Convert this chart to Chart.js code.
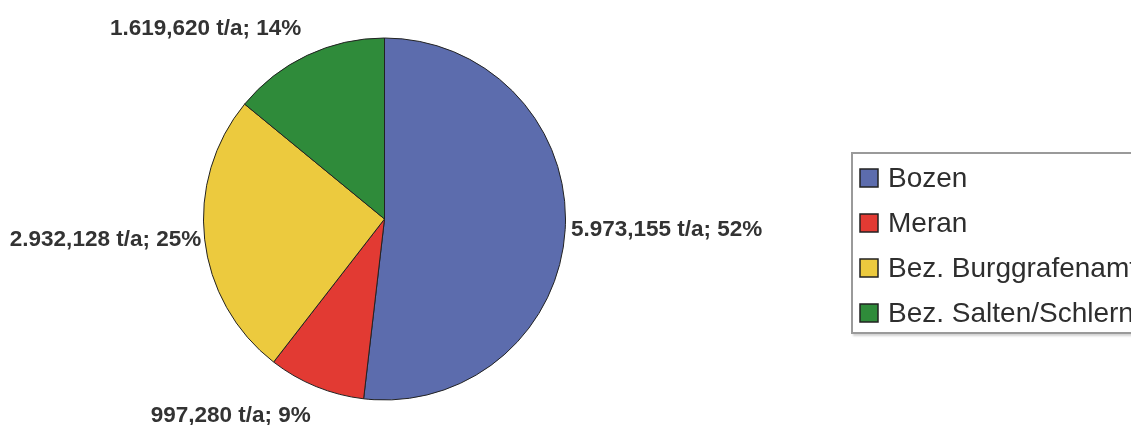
<!DOCTYPE html>
<html>
<head>
<meta charset="utf-8">
<script src="https://cdn.jsdelivr.net/npm/chart.js@4/dist/chart.umd.min.js"></script>
<style>
  html, body { margin: 0; padding: 0; background: #fff; overflow: hidden; }
  #wrap { width: 1131px; height: 425px; }
</style>
</head>
<body>
<div id="wrap"><canvas id="pie" width="1131" height="425"></canvas></div>
<script>
// Abfallmengen je Gebiet (t/a)
var gebiete = ["Bozen", "Meran", "Bez. Burggrafenamt", "Bez. Salten/Schlern"];
var mengen = [5973.155, 997.280, 2932.128, 1619.620];
var farben = ["#5c6cad", "#e23a33", "#ecca3e", "#2f8b3a"];

// 5973.155 -> "5.973,155"
function formatDe(v) {
    var parts = v.toFixed(3).split(".");
    var ganz = parts[0].replace(/\B(?=(\d{3})+(?!\d))/g, ".");
    return ganz + "," + parts[1];
}

var labelFont = 'bold 22.5px "Liberation Sans", Arial, sans-serif';
var legendFont = '28px "Liberation Sans", Arial, sans-serif';

// Beschriftung ausserhalb der Segmente: "Menge t/a; Anteil%"
var outsideLabels = {
    id: "outsideLabels",
    afterDatasetsDraw: function (chart) {
        var ctx = chart.ctx;
        var meta = chart.getDatasetMeta(0);
        var data = chart.data.datasets[0].data;
        var summe = data.reduce(function (a, b) { return a + b; }, 0);
        ctx.save();
        ctx.font = labelFont;
        ctx.fillStyle = "#333";
        meta.data.forEach(function (arc, i) {
            var p = arc.getProps(["x", "y", "startAngle", "endAngle", "outerRadius"], true);
            var mid = (p.startAngle + p.endAngle) / 2;
            var c = Math.cos(mid), s = Math.sin(mid);
            var gap = (c > 0 ? 5 : 2) + 13 * Math.abs(s);
            var px = p.x + c * (p.outerRadius + gap);
            var py = p.y + s * (p.outerRadius + gap);
            ctx.textAlign = c > 0.05 ? "left" : (c < -0.05 ? "right" : "center");
            if (s > 0.5) { ctx.textBaseline = "top"; py += 5; }
            else if (s < -0.5) { ctx.textBaseline = "bottom"; py -= 3; }
            else { ctx.textBaseline = "middle"; }
            var pct = Math.round(data[i] / summe * 100);
            ctx.fillText(formatDe(data[i]) + " t/a; " + pct + "%", px, py);
        });
        ctx.restore();
    }
};

// Legende im Rahmen rechts neben dem Kreis
var boxLegend = {
    id: "boxLegend",
    afterDraw: function (chart) {
        var ctx = chart.ctx;
        var ds = chart.data.datasets[0];
        var left = 852, top = 153, rowH = 45;
        var h = chart.data.labels.length * rowH;
        ctx.save();
        ctx.shadowColor = "rgba(0,0,0,0.18)";
        ctx.shadowOffsetX = 1;
        ctx.shadowOffsetY = 3;
        ctx.shadowBlur = 2;
        ctx.fillStyle = "#fff";
        ctx.fillRect(left, top, 320, h);
        ctx.shadowColor = "transparent";
        ctx.strokeStyle = "#9a9a9a";
        ctx.lineWidth = 2;
        ctx.strokeRect(left, top, 320, h);

        ctx.font = legendFont;
        ctx.textAlign = "left";
        ctx.textBaseline = "middle";
        chart.data.labels.forEach(function (name, i) {
            var cy = top + 25 + i * rowH;
            ctx.fillStyle = ds.backgroundColor[i];
            ctx.fillRect(860, cy - 9, 18, 18);
            ctx.strokeStyle = "#222";
            ctx.lineWidth = 1.5;
            ctx.strokeRect(860, cy - 9, 18, 18);
            ctx.fillStyle = "#2e2e2e";
            ctx.fillText(name, 888, cy + 1);
        });
        ctx.restore();
    }
};

new Chart(document.getElementById("pie"), {
    type: "pie",
    data: {
        labels: gebiete,
        datasets: [{
            data: mengen,
            backgroundColor: farben,
            borderColor: "#222",
            borderWidth: 1
        }]
    },
    options: {
        responsive: false,
        animation: false,
        layout: { padding: { left: 203, right: 565, top: 37, bottom: 24 } },
        plugins: {
            legend: { display: false },
            tooltip: { enabled: false }
        }
    },
    plugins: [outsideLabels, boxLegend]
});
</script>
</body>
</html>
